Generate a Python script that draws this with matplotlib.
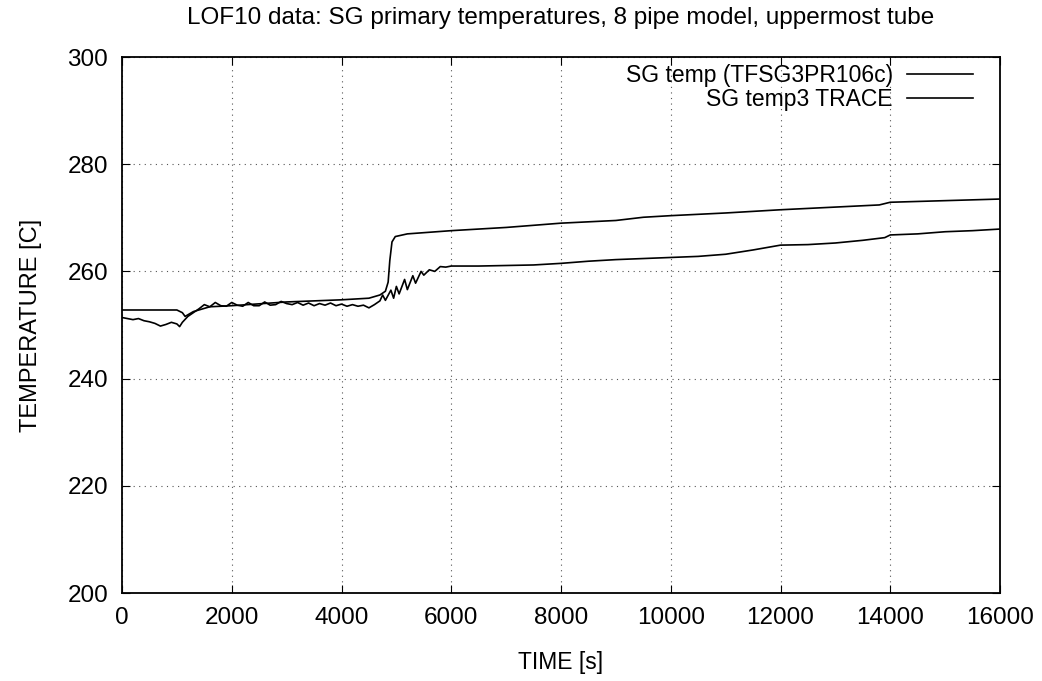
import matplotlib
matplotlib.use("Agg")
import matplotlib.pyplot as plt

plt.rcParams['font.family'] = ['Liberation Sans', 'DejaVu Sans']

# Measured data: SG temp (TFSG3PR106c)
t_meas = [0, 100, 200, 300, 400, 500, 600, 700, 800, 900, 1000, 1050, 1100, 1200,
          1300, 1400, 1500, 1600, 1700, 1800, 1900, 2000, 2100, 2200, 2300, 2400,
          2500, 2600, 2700, 2800, 2900, 3000, 3100, 3200, 3300, 3400, 3500, 3600,
          3700, 3800, 3900, 4000, 4100, 4200, 4300, 4400, 4500, 4600, 4700, 4750,
          4800, 4900, 4950, 5000, 5050, 5150, 5200, 5300, 5350, 5450, 5500, 5600,
          5700, 5800, 5900, 6000, 6500, 7000, 7500, 8000, 8500, 9000, 9500, 10000,
          10500, 11000, 11500, 12000, 12500, 13000, 13500, 13900, 14000, 14500,
          15000, 15500, 16000]
T_meas = [251.4, 251.2, 251.0, 251.2, 250.8, 250.6, 250.3, 249.8, 250.1, 250.5,
          250.2, 249.7, 250.5, 251.6, 252.3, 253.0, 253.8, 253.4, 254.2, 253.6,
          253.5, 254.2, 253.7, 253.5, 254.2, 253.6, 253.6, 254.3, 253.7, 253.8,
          254.4, 254.0, 253.8, 254.2, 253.7, 254.1, 253.6, 254.0, 253.7, 254.1,
          253.6, 253.9, 253.5, 253.8, 253.5, 253.7, 253.2, 253.8, 254.5, 255.6,
          254.6, 256.5, 255.0, 257.2, 255.8, 258.5, 256.6, 259.2, 257.8, 260.0,
          259.3, 260.3, 260.0, 260.9, 260.8, 261.0, 261.0, 261.1, 261.2, 261.5,
          261.9, 262.2, 262.4, 262.6, 262.8, 263.2, 264.0, 264.9, 265.0, 265.3,
          265.8, 266.3, 266.8, 267.0, 267.4, 267.6, 267.9]

# TRACE calculation: SG temp3 TRACE
t_trace = [0, 1000, 1100, 1150, 1300, 1600, 2000, 3000, 4000, 4500, 4700, 4800,
           4850, 4880, 4920, 4980, 5200, 6000, 7000, 8000, 9000, 9500, 10000,
           11000, 12000, 13000, 13800, 14000, 15000, 16000]
T_trace = [252.8, 252.8, 252.3, 251.6, 252.5, 253.4, 253.6, 254.3, 254.7, 255.0,
           255.6, 256.3, 258.0, 262.0, 265.5, 266.5, 267.0, 267.6, 268.2, 269.0,
           269.5, 270.1, 270.4, 270.9, 271.5, 272.0, 272.4, 272.9, 273.2, 273.5]

x_ticks = [0, 2000, 4000, 6000, 8000, 10000, 12000, 14000, 16000]
y_ticks = [200, 220, 240, 260, 280, 300]

fig = plt.figure(figsize=(10.42, 6.81), dpi=100)
ax = fig.add_axes([122/1042, 1 - 593/681, (1000-122)/1042, (593-57)/681])

ax.plot(t_meas, T_meas, color='black', lw=1.2, label='SG temp (TFSG3PR106c)')
ax.plot(t_trace, T_trace, color='black', lw=1.2, label='SG temp3 TRACE')

ax.set_xlim(0, 16000)
ax.set_ylim(200, 300)
ax.set_xticks(x_ticks)
ax.set_yticks(y_ticks)
ax.grid(True, color='#555555', linestyle=(0, (1, 4)), lw=0.8)
ax.tick_params(direction='in', top=True, right=True, labelsize=17.5, length=6, pad=10)
for s in ax.spines.values():
    s.set_linewidth(1.3)

ax.set_xlabel('TIME [s]', fontsize=16.5, labelpad=16)
ax.set_ylabel('TEMPERATURE [C]', fontsize=17, labelpad=18)
ax.set_title('LOF10 data: SG primary temperatures, 8 pipe model, uppermost tube',
             fontsize=17.5, pad=24)

leg = ax.legend(loc='upper right', frameon=False, markerfirst=False, fontsize=16.5,
                handlelength=2.9, handletextpad=0.6, borderaxespad=0.2,
                labelspacing=0.05, bbox_to_anchor=(0.985, 1.012))
for txt in leg.get_texts():
    txt.set_ha('right')

fig.savefig('out.png', dpi=100)
